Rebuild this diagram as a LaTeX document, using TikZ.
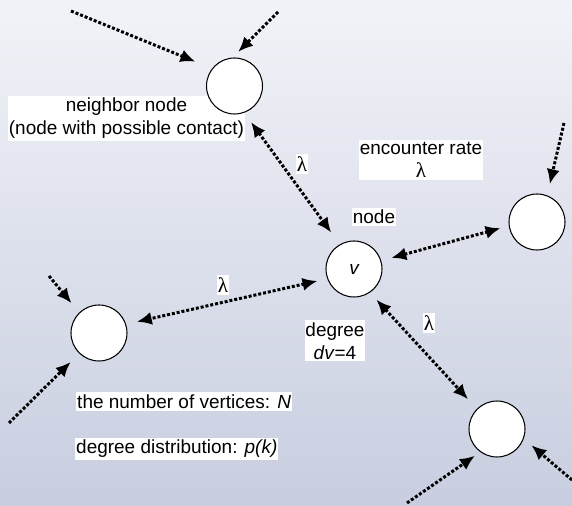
\documentclass[tikz,border=0pt]{standalone}
\usepackage{fontspec}
\setmainfont{Liberation Sans}
\newfontfamily\greekfont{Liberation Serif}
\usepackage{xcolor}
\definecolor{bgtop}{RGB}{242,243,248}
\definecolor{bgbottom}{RGB}{200,206,224}
\usetikzlibrary{arrows.meta,positioning}

\begin{document}
\begin{tikzpicture}[
  x=0.02cm, y=-0.02cm,
  vertex/.style={circle, draw=black, fill=white, line width=0.6pt, minimum size=1.12cm, inner sep=0pt, font=\fontsize{10.8}{13}\selectfont\itshape},
  lbl/.style={fill=white, inner xsep=0.5pt, inner ysep=1.2pt, align=center, font=\fontsize{10.8}{13}\selectfont},
  flow/.style={-{Latex[length=8.5pt,width=7.5pt]}, line width=1.7pt, dash pattern=on 1.7pt off 1.1pt},
  twoway/.style={flow, {Latex[length=8.5pt,width=7.5pt]}-{Latex[length=8.5pt,width=7.5pt]}}
]
\useasboundingbox (0,0) rectangle (572,506);
\shade[top color=bgtop, bottom color=bgbottom] (0,0) rectangle (572,506);

% labels
\node[lbl] (nbrtxt) at (126.5,118.5) {neighbor node\\(node with possible contact)};
\node[lbl] (lam1) at (302,164) {\greekfont\large λ};
\node[lbl] (rate) at (421,160) {encounter rate\\{\greekfont\large λ}};
\node[lbl] (ctrtxt) at (374,217) {node};
\node[lbl] (lam2) at (223,285) {\greekfont\large λ};
\node[lbl] (deg) at (335,341) {degree\\\textit{dv}=4};
\node[lbl] (lam3) at (429,323) {\greekfont\large λ};
\node[lbl, anchor=west] (nvert) at (76,401.5) {the number of vertices: \textit{N}};
\node[lbl, anchor=west] (pdist) at (75,449) {degree distribution: \textit{p(k)}};

% vertices
\node[vertex] (nbr) at (234.5,86) {};
\node[vertex] (ctr) at (354,269) {v};
\node[vertex] (rgt) at (537,222) {};
\node[vertex] (lft) at (99,333) {};
\node[vertex] (btm) at (497,429) {};

% free ends
\coordinate (s1) at (71,11);
\coordinate (s2) at (278,12);
\coordinate (s3) at (564,123);
\coordinate (s4) at (49,276);
\coordinate (s5) at (9,423);
\coordinate (s6) at (407,503);
\coordinate (s7) at (572,480);

\draw[flow, shorten >=0.36cm] (s1) -- (nbr.142);
\draw[flow, shorten >=0.16cm] (s2) -- (nbr.94);
\draw[flow, shorten >=0.23cm] (s3) -- (rgt.69);
\draw[flow, shorten >=0.24cm] (s4) -- (lft.134);
\draw[flow, shorten >=0.24cm] (s5) -- (lft.226);
\draw[flow, shorten >=0.13cm] (s6) -- (btm.234);
\draw[flow, shorten >=0.2cm] (s7) -- (btm.-20);

\draw[twoway, shorten <=0.23cm, shorten >=0.29cm] (nbr.-70) -- (ctr.120);
\draw[twoway, shorten <=0.21cm, shorten >=0.17cm] (ctr.17) -- (rgt.188);
\draw[twoway, shorten <=0.2cm, shorten >=0.22cm] (ctr.200) -- (lft.18);
\draw[twoway, shorten <=0.19cm, shorten >=0.26cm] (ctr.-56) -- (btm.135);
\end{tikzpicture}
\end{document}
